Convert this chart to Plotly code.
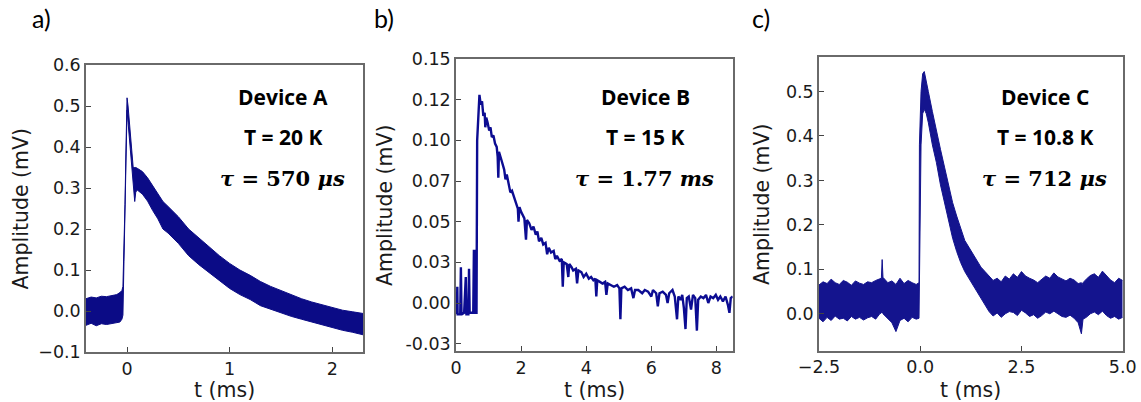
import plotly.graph_objects as go

W, H = 1141, 402

# ---------------- Panel a: Device A (band envelope) ----------------
t_a = [-0.40, -0.35, -0.30, -0.25, -0.20, -0.15, -0.10, -0.07, -0.05,
       -0.04, -0.03, -0.02, -0.01, 0.00,
       0.01, 0.03, 0.05, 0.06, 0.075, 0.085, 0.10,
       0.15, 0.20, 0.25, 0.30, 0.35, 0.40,
       0.50, 0.60, 0.70, 0.80, 0.90, 1.00,
       1.10, 1.20, 1.30, 1.40, 1.50, 1.60, 1.70, 1.80, 1.90, 2.00, 2.10, 2.20, 2.30]
up_a = [0.030, 0.034, 0.032, 0.036, 0.035, 0.038, 0.040, 0.045, 0.050,
        0.060, 0.15, 0.26, 0.40, 0.52,
        0.50, 0.43, 0.37, 0.35, 0.35, 0.35, 0.348,
        0.340, 0.325, 0.305, 0.285, 0.267, 0.255,
        0.230, 0.200, 0.178, 0.158, 0.135, 0.116,
        0.100, 0.087, 0.072, 0.060, 0.050, 0.040, 0.030, 0.022, 0.015, 0.008, 0.002, -0.002, -0.006]
lo_a = [-0.035, -0.030, -0.036, -0.031, -0.033, -0.030, -0.028, -0.027, -0.020,
        -0.010, 0.12, 0.23, 0.37, 0.49,
        0.46, 0.40, 0.34, 0.31, 0.267, 0.29, 0.295,
        0.285, 0.268, 0.245, 0.225, 0.200, 0.190,
        0.165, 0.135, 0.113, 0.093, 0.073, 0.055,
        0.040, 0.028, 0.013, 0.004, -0.005, -0.013, -0.020, -0.027, -0.034, -0.040, -0.047, -0.052, -0.058]

# ---------------- Panel b: Device B (single trace) ----------------
t_b = [0.00, 0.03, 0.04, 0.05, 0.13, 0.15, 0.17, 0.25, 0.30, 0.32, 0.38, 0.40, 0.42, 0.53, 0.55, 0.57, 0.59,
       0.63, 0.65, 0.68, 0.72, 0.76, 0.80, 0.84, 0.88, 0.90, 0.93, 0.97, 1.02, 1.06, 1.10, 1.15, 1.20,
       1.25, 1.28, 1.30, 1.32, 1.38, 1.43, 1.48, 1.52, 1.56, 1.62, 1.67, 1.72, 1.78, 1.84, 1.90, 1.92,
       1.95, 2.00, 2.05, 2.10, 2.15, 2.18, 2.25, 2.32, 2.38, 2.45, 2.50, 2.55, 2.62, 2.68, 2.75, 2.80,
       2.85, 2.92, 3.00, 3.05, 3.10, 3.18, 3.25, 3.28, 3.31, 3.40, 3.45, 3.48, 3.55, 3.60, 3.68, 3.72,
       3.76, 3.85, 3.92, 4.00, 4.08, 4.15, 4.22, 4.28, 4.31, 4.34, 4.42, 4.50, 4.58, 4.62, 4.66, 4.75,
       4.85, 4.95, 5.02, 5.05, 5.08, 5.18, 5.28, 5.38, 5.45, 5.50, 5.60, 5.72, 5.80, 5.90, 6.00, 6.05,
       6.15, 6.20, 6.25, 6.35, 6.45, 6.50, 6.55, 6.65, 6.72, 6.79, 6.83, 6.90, 6.95, 7.00, 7.05, 7.09,
       7.15, 7.22, 7.28, 7.35, 7.40, 7.44, 7.52, 7.60, 7.68, 7.75, 7.82, 7.90, 7.98, 8.05, 8.12, 8.20,
       8.28, 8.35, 8.40, 8.44, 8.50]
v_b = [-0.006, -0.006, 0.010, -0.007, -0.007, 0.022, -0.007, -0.006, 0.016, -0.007, -0.007, 0.021, -0.006, -0.006, 0.032, 0.032, -0.006,
       -0.006, 0.100, 0.115, 0.128, 0.122, 0.124, 0.115, 0.117, 0.108, 0.114, 0.111, 0.106, 0.108, 0.102, 0.103, 0.098,
       0.096, 0.090, 0.077, 0.093, 0.089, 0.085, 0.082, 0.076, 0.079, 0.073, 0.068, 0.069, 0.065, 0.062, 0.058, 0.050,
       0.059, 0.056, 0.054, 0.052, 0.039, 0.051, 0.049, 0.045, 0.047, 0.042, 0.044, 0.038, 0.040, 0.036, 0.037, 0.030,
       0.034, 0.031, 0.032, 0.027, 0.029, 0.026, 0.027, 0.010, 0.025, 0.024, 0.016, 0.024, 0.022, 0.020, 0.021, 0.012,
       0.020, 0.019, 0.016, 0.018, 0.015, 0.016, 0.014, 0.015, 0.004, 0.014, 0.013, 0.012, 0.013, 0.005, 0.012, 0.011,
       0.010, 0.011, 0.009, -0.010, 0.009, 0.010, 0.008, 0.009, 0.003, 0.008, 0.008, 0.006, 0.008, 0.007, 0.004, 0.008,
       0.006, -0.002, 0.006, 0.007, 0.005, 0.000, 0.006, 0.008, 0.004, -0.010, 0.004, 0.002, 0.005, -0.003, -0.016, 0.003,
       0.004, -0.004, 0.005, 0.003, -0.017, 0.002, 0.004, 0.003, 0.005, 0.000, 0.004, 0.003, 0.005, 0.002, 0.004, 0.001,
       0.004, -0.001, -0.006, 0.003, 0.004]

# ---------------- Panel c: Device C (band envelope) ----------------
t_c = [-2.5, -2.4, -2.3, -2.2, -2.1, -2.0, -1.9, -1.8, -1.7, -1.6,
       -1.5, -1.4, -1.3, -1.2, -1.1, -1.0, -0.96, -0.94, -0.92, -0.8,
       -0.7, -0.6, -0.5, -0.4, -0.3, -0.2, -0.1, -0.03, -0.02, 0.02,
       0.06, 0.10, 0.15, 0.20, 0.30, 0.40, 0.50, 0.60, 0.70, 0.80,
       0.90, 1.00, 1.10, 1.20, 1.30, 1.40, 1.50, 1.60, 1.70, 1.80,
       1.90, 2.00, 2.10, 2.20, 2.30, 2.40, 2.50, 2.60, 2.70, 2.80,
       2.90, 3.00, 3.10, 3.20, 3.30, 3.40, 3.50, 3.60, 3.70, 3.80,
       3.90, 3.98, 4.00, 4.02, 4.10, 4.20, 4.30, 4.40, 4.50, 4.60,
       4.70, 4.80, 4.90, 5.00]
up_c = [0.065, 0.072, 0.068, 0.078, 0.070, 0.066, 0.075, 0.071, 0.064, 0.074,
        0.069, 0.066, 0.072, 0.070, 0.075, 0.078, 0.080, 0.122, 0.082, 0.070,
        0.074, 0.066, 0.080, 0.068, 0.075, 0.070, 0.066, 0.070, 0.380, 0.500,
        0.540, 0.545, 0.525, 0.500, 0.455, 0.410, 0.370, 0.330, 0.290, 0.250,
        0.220, 0.190, 0.165, 0.150, 0.135, 0.120, 0.105, 0.095, 0.085, 0.075,
        0.080, 0.072, 0.085, 0.078, 0.090, 0.082, 0.095, 0.085, 0.080, 0.076,
        0.070, 0.078, 0.085, 0.080, 0.092, 0.083, 0.078, 0.074, 0.080, 0.076,
        0.068, 0.070, 0.066, 0.070, 0.078, 0.086, 0.090, 0.082, 0.096, 0.085,
        0.076, 0.070, 0.080, 0.075]
lo_c = [-0.010, -0.018, -0.008, -0.015, -0.005, -0.012, -0.010, -0.016, -0.006, -0.012,
        -0.008, -0.014, -0.009, -0.006, -0.012, 0.000, 0.002, 0.005, 0.000, -0.010,
        -0.020, -0.040, -0.015, -0.010, -0.018, -0.008, -0.012, -0.010, 0.050, 0.380,
        0.450, 0.460, 0.450, 0.430, 0.380, 0.340, 0.290, 0.250, 0.210, 0.170,
        0.140, 0.115, 0.095, 0.080, 0.065, 0.050, 0.035, 0.020, 0.005, -0.005,
        0.002, -0.008, 0.000, 0.005, 0.003, -0.004, 0.008, 0.002, -0.006, -0.002,
        -0.010, -0.004, 0.004, 0.000, 0.006, 0.000, -0.006, -0.008, -0.003, -0.010,
        -0.020, -0.045, -0.020, -0.012, -0.008, 0.000, 0.004, -0.002, 0.006, -0.004,
        -0.010, -0.006, -0.012, -0.008]

# ---------------- Labels ----------------
panel_letters = ["a)", "b)", "c)"]
devices = ["Device A", "Device B", "Device C"]
temps = ["T = 20 K", "T = 15 K", "T = 10.8 K"]
taus = [("570", "μs"), ("1.77", "ms"), ("712", "μs")]

NAVY = "#0b0b86"

fig = go.Figure()

def band(t, up, lo, xa, ya, color):
    fig.add_trace(go.Scatter(x=t, y=lo, mode="lines", line=dict(color=color, width=1),
                             xaxis=xa, yaxis=ya, showlegend=False, hoverinfo="skip"))
    fig.add_trace(go.Scatter(x=t, y=up, mode="lines", line=dict(color=color, width=1),
                             fill="tonexty", fillcolor=color,
                             xaxis=xa, yaxis=ya, showlegend=False, hoverinfo="skip"))

band(t_a, up_a, lo_a, "x", "y", NAVY)
fig.add_trace(go.Scatter(x=t_b, y=v_b, mode="lines", line=dict(color="#0c0c92", width=2.4),
                         xaxis="x2", yaxis="y2", showlegend=False))
band(t_c, up_c, lo_c, "x3", "y3", "#14148e")

def px(x):
    return x / W

def py(y):
    return 1 - y / H

tickfont = dict(family="DejaVu Sans", size=17.5, color="#1a1a1a")
axcommon = dict(showline=True, mirror=True, linecolor="#6a6a6a", linewidth=1.5,
                ticks="inside", ticklen=5, tickwidth=1.2, tickcolor="#444",
                showgrid=False, zeroline=False, tickfont=tickfont, automargin=False)

# plot areas in pixels (left, right, top, bottom)
boxes = [(86, 363, 65, 352), (456, 732.7, 59, 351), (819, 1122.7, 57.3, 350.7)]
ax_ids = ["", "2", "3"]
x_ranges = [[-0.4, 2.3], [0, 8.5], [-2.5, 5.0]]
y_ranges = [[-0.1, 0.6], [-0.0295, 0.15], [-0.083, 0.577]]
x_ticks = [[0, 1, 2], [0, 2, 4, 6, 8], [-2.5, 0.0, 2.5, 5.0]]
x_fmt = ["d", "d", ".1f"]
y_ticks = [[-0.1, 0.0, 0.1, 0.2, 0.3, 0.4, 0.5, 0.6],
           [-0.025, 0.0, 0.025, 0.05, 0.075, 0.10, 0.125, 0.15],
           [0.0, 0.1, 0.2, 0.3, 0.4, 0.5]]
y_text_b = ["-0.03", "0.00", "0.03", "0.05", "0.07", "0.10", "0.12", "0.15"]

layout = dict(width=W, height=H, margin=dict(l=0, r=0, t=0, b=0, autoexpand=False),
              paper_bgcolor="white", plot_bgcolor="white", showlegend=False)
for i, (l, r, t, b) in enumerate(boxes):
    k = ax_ids[i]
    xa = dict(axcommon, domain=[px(l), px(r)], range=x_ranges[i], anchor="y" + k,
              tickvals=x_ticks[i], tickformat=x_fmt[i])
    ya = dict(axcommon, domain=[py(b), py(t)], range=y_ranges[i], anchor="x" + k,
              tickvals=y_ticks[i], tickformat=".1f")
    if i == 1:
        ya["ticktext"] = y_text_b
    layout["xaxis" + k] = xa
    layout["yaxis" + k] = ya
fig.update_layout(**layout)

ann = []
title_font = dict(family="DejaVu Sans", size=20.5, color="#1a1a1a")
ytitle_x = [20, 385, 762]
letter_x = [41, 384, 761]
text_x = [283, 645, 1045]
for i, (l, r, t, b) in enumerate(boxes):
    ann.append(dict(x=px((l + r) / 2), y=py(390), xref="paper", yref="paper", text="t (ms)",
                    showarrow=False, font=title_font, xanchor="center", yanchor="middle"))
    ann.append(dict(x=px(ytitle_x[i]), y=py((t + b) / 2), xref="paper", yref="paper",
                    text="Amplitude (mV)", textangle=-90, showarrow=False, font=title_font,
                    xanchor="center", yanchor="middle"))
    ann.append(dict(x=px(letter_x[i]), y=py(18), xref="paper", yref="paper", text=panel_letters[i],
                    showarrow=False, font=dict(family="Lato", size=25, color="black"),
                    xanchor="center", yanchor="middle"))
    ann.append(dict(x=px(text_x[i]), y=py(97), xref="paper", yref="paper",
                    text="<b>" + devices[i] + "</b>", showarrow=False,
                    font=dict(family="Open Sans", size=21, color="black"),
                    xanchor="center", yanchor="middle"))
    ann.append(dict(x=px(text_x[i]), y=py(137), xref="paper", yref="paper",
                    text="<b>" + temps[i] + "</b>", showarrow=False,
                    font=dict(family="Open Sans", size=21, color="black"),
                    xanchor="center", yanchor="middle"))
    num, unit = taus[i]
    ann.append(dict(x=px(text_x[i] - 1), y=py(178), xref="paper", yref="paper",
                    text="<b><i>τ</i> = " + num + " <i>" + unit + "</i></b>", showarrow=False,
                    font=dict(family="DejaVu Serif", size=21, color="black"),
                    xanchor="center", yanchor="middle"))
fig.update_layout(annotations=ann)

fig.write_html("out.html")
